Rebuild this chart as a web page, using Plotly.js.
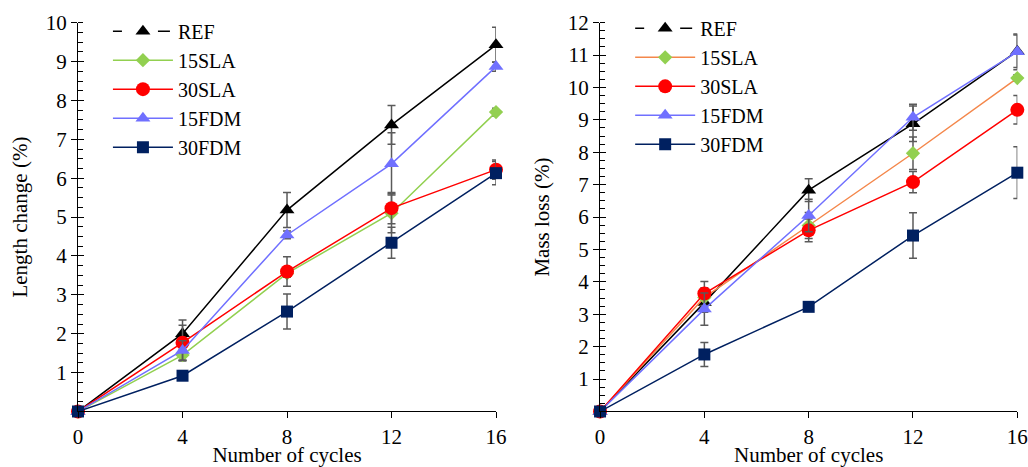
<!DOCTYPE html>
<html>
<head>
<meta charset="utf-8">
<script src="https://cdn.plot.ly/plotly-3.0.1.min.js"></script>
<style>
  html, body { margin: 0; padding: 0; background: #ffffff; }
  #chart { width: 1028px; height: 467px; }
</style>
</head>
<body>
<div id="chart"></div>
<script>
// Freeze–thaw cycles at which samples were measured
const cycles = [0, 4, 8, 12, 16];
const seriesNames = ['REF', '15SLA', '30SLA', '15FDM', '30FDM'];

// Length change (%) and standard deviations
const lenREF   = [0, 2.00, 5.18, 7.37, 9.43];
const len15SLA = [0, 1.45, 3.55, 5.10, 7.70];
const len30SLA = [0, 1.77, 3.60, 5.23, 6.22];
const len15FDM = [0, 1.57, 4.54, 6.37, 8.87];
const len30FDM = [0, 0.92, 2.57, 4.34, 6.13];
const lenErrREF   = [0, 0.35, 0.45, 0.50, 0.45];
const lenErr15SLA = [0, 0.15, 0.10, 0.50, 0.10];
const lenErr30SLA = [0, 0.45, 0.38, 0.40, 0.25];
const lenErr15FDM = [0, 0.25, 0.10, 0.80, 0.12];
const lenErr30FDM = [0, 0.10, 0.45, 0.40, 0.30];

// Mass loss (%) and standard deviations
const massREF   = [0, 3.36, 6.83, 8.88, 11.12];
const mass15SLA = [0, 3.52, 5.74, 7.97, 10.29];
const mass30SLA = [0, 3.64, 5.59, 7.08, 9.31];
const mass15FDM = [0, 3.16, 6.05, 9.08, 11.10];
const mass30FDM = [0, 1.76, 3.23, 5.43, 7.37];
const massErrREF   = [0, 0.30, 0.35, 0.55, 0.50];
const massErr15SLA = [0, 0.30, 0.40, 0.50, 0.10];
const massErr30SLA = [0, 0.37, 0.35, 0.33, 0.44];
const massErr15FDM = [0, 0.50, 0.50, 0.40, 0.55];
const massErr30FDM = [0, 0.37, 0.10, 0.70, 0.80];

const lenTicks = [1, 2, 3, 4, 5, 6, 7, 8, 9, 10];
const massTicks = [1, 2, 3, 4, 5, 6, 7, 8, 9, 10, 11, 12];

const FONT = 'Liberation Serif, Times New Roman, serif';
const ERR_COLOR = '#5a5a5a';
const Y_DOMAIN = [0.0584, 0.9481];

const styles = {
  REF:   { line: '#000000', marker: '#000000', symbol: 'triangle-up', size: 13 },
  '15SLA': { line: '#92D050', marker: '#92D050', symbol: 'diamond', size: 11 },
  '30SLA': { line: '#FF0000', marker: '#FF0000', symbol: 'circle', size: 14 },
  '15FDM': { line: '#7070FF', marker: '#7070FF', symbol: 'triangle-up', size: 13 },
  '30FDM': { line: '#002060', marker: '#002060', symbol: 'square', size: 12 }
};

function series(name, y, err, xa, ya, legend, lineColor) {
  const s = styles[name];
  return {
    x: cycles, y: y, name: name, type: 'scatter', mode: 'lines+markers',
    xaxis: xa, yaxis: ya, legend: legend, cliponaxis: false,
    showlegend: name !== 'REF',
    line: { color: lineColor || s.line, width: 1.5 },
    marker: { color: s.marker, symbol: s.symbol, size: s.size, line: { width: 0 } },
    error_y: { type: 'data', array: err, visible: true, color: ERR_COLOR, thickness: 1.5, width: 4 }
  };
}

// REF legend entry is shown with a dashed line
function refLegend(xa, ya, legend) {
  return {
    x: [null], y: [null], name: 'REF', type: 'scatter', mode: 'lines+markers',
    xaxis: xa, yaxis: ya, legend: legend, legendrank: 1,
    line: { color: '#000000', width: 1.5, dash: '9px,36px,12px' },
    marker: { color: '#000000', symbol: 'triangle-up', size: 13 }
  };
}

const traces = [
  refLegend('x', 'y3', 'legend'),
  series('REF', lenREF, lenErrREF, 'x', 'y', 'legend'),
  series('15SLA', len15SLA, lenErr15SLA, 'x', 'y', 'legend'),
  series('30SLA', len30SLA, lenErr30SLA, 'x', 'y', 'legend'),
  series('15FDM', len15FDM, lenErr15FDM, 'x', 'y', 'legend'),
  series('30FDM', len30FDM, lenErr30FDM, 'x', 'y', 'legend'),

  refLegend('x2', 'y4', 'legend2'),
  series('REF', massREF, massErrREF, 'x2', 'y2', 'legend2'),
  series('15SLA', mass15SLA, massErr15SLA, 'x2', 'y2', 'legend2', '#F4874B'),
  series('30SLA', mass30SLA, massErr30SLA, 'x2', 'y2', 'legend2'),
  series('15FDM', mass15FDM, massErr15FDM, 'x2', 'y2', 'legend2'),
  series('30FDM', mass30FDM, massErr30FDM, 'x2', 'y2', 'legend2')
];

const tickFont = { family: FONT, size: 21, color: '#000000' };

function xAxis(domain, anchor) {
  return {
    domain: domain, anchor: anchor, range: [0, 16],
    tickmode: 'array', tickvals: cycles, ticktext: cycles.map(String),
    ticks: 'outside', ticklen: 6, tickwidth: 1, tickcolor: '#000000',
    showline: true, linecolor: '#000000', linewidth: 1,
    showgrid: false, zeroline: false, tickfont: tickFont,
    automargin: false,
    title: { text: 'Number of cycles', font: tickFont, standoff: 5 }
  };
}

function yAxis(range, ticks, anchor, title) {
  return {
    domain: Y_DOMAIN, anchor: anchor, range: range,
    tickmode: 'array', tickvals: ticks, ticktext: ticks.map(String),
    ticks: 'outside', ticklen: 6, tickwidth: 1, tickcolor: '#000000',
    minor: { ticks: 'inside', ticklen: 5, tickwidth: 1, tickcolor: '#000000', dtick: 0.25, tick0: 0 },
    showline: true, linecolor: '#000000', linewidth: 1,
    showgrid: false, zeroline: false, tickfont: tickFont,
    ticklabelstandoff: 0, automargin: false,
    title: { text: title, font: tickFont, standoff: 12 }
  };
}

// Second axis on each panel so the major ticks cross the axis line
function crossAxis(range, ticks, anchor, over) {
  return {
    domain: Y_DOMAIN, anchor: anchor, overlaying: over, range: range,
    tickmode: 'array', tickvals: ticks, ticks: 'inside', ticklen: 6, tickwidth: 1,
    tickcolor: '#000000', showticklabels: false, showline: false,
    showgrid: false, zeroline: false, automargin: false
  };
}

const legendBase = {
  font: { family: FONT, size: 20, color: '#000000' },
  bgcolor: 'rgba(0,0,0,0)', borderwidth: 0,
  xanchor: 'left', yanchor: 'top', itemwidth: 60, tracegroupgap: 0,
  traceorder: 'normal'
};

const layout = {
  width: 1028, height: 467,
  margin: { l: 0, r: 0, t: 0, b: 30 },
  paper_bgcolor: '#ffffff', plot_bgcolor: '#ffffff',
  font: { family: FONT, size: 21, color: '#000000' },
  xaxis: xAxis([0.0759, 0.4825], 'y'),
  yaxis: yAxis([0, 10], lenTicks, 'x', 'Length change (%)'),
  yaxis3: crossAxis([0, 10], lenTicks, 'x', 'y'),
  xaxis2: xAxis([0.5837, 0.9896], 'y2'),
  yaxis2: yAxis([0, 12], massTicks, 'x2', 'Mass loss (%)'),
  yaxis4: crossAxis([0, 12], massTicks, 'x2', 'y2'),
  legend: Object.assign({ x: 0.105, y: 0.9733 }, legendBase),
  legend2: Object.assign({ x: 0.613, y: 0.9797 }, legendBase),
  showlegend: true
};

Plotly.newPlot('chart', traces, layout, { staticPlot: true, displayModeBar: false });
</script>
</body>
</html>
